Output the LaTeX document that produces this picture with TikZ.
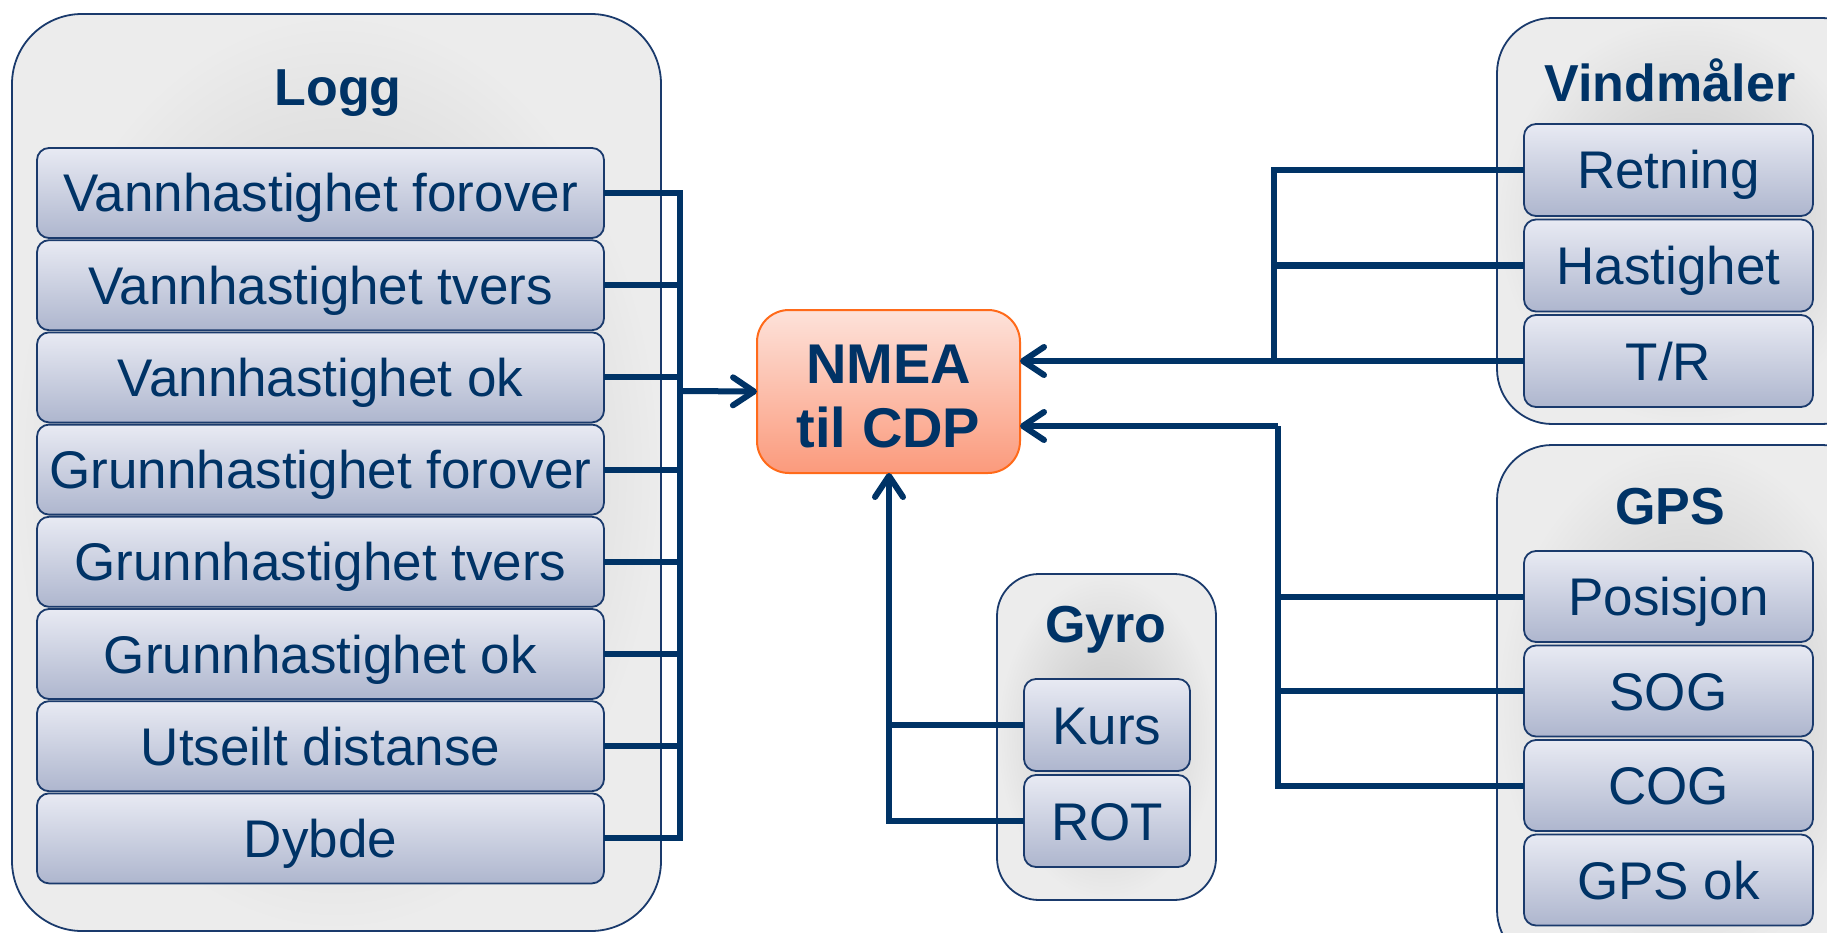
\documentclass[tikz,border=0pt]{standalone}
\usepackage{fontspec}
\setmainfont{Liberation Sans}
\usetikzlibrary{arrows.meta}
\definecolor{navy}{HTML}{003366}
\definecolor{boxline}{HTML}{1A3A6C}
\definecolor{grpin}{HTML}{C2C2C2}
\definecolor{grpout}{HTML}{ECECEC}
\definecolor{itemtop}{HTML}{E8EAF3}
\definecolor{itembot}{HTML}{AEB6CE}
\definecolor{nmeatop}{HTML}{FDE2DA}
\definecolor{nmeabot}{HTML}{FB9A7C}
\definecolor{nmealine}{HTML}{FF6A1A}
\tikzset{
  grp/.style={draw=boxline, line width=1.8pt, rounded corners=#1, inner color=grpin, outer color=grpout,
    anchor=north west, inner sep=0pt, outer sep=0pt},
  grptitle/.style={text=navy, font=\fontsize{52}{60}\selectfont\bfseries, inner sep=0pt},
  item/.style={draw=boxline, line width=1.8pt, rounded corners=12pt, top color=itemtop, bottom color=itembot,
    text=navy, font=\fontsize{53}{60}\selectfont, anchor=north west, inner sep=0pt, outer sep=0pt,
    text height=44pt, text depth=6pt},
  conn/.style={draw=navy, line width=6pt},
  arr/.style={conn, -{Straight Barb[length=21pt,width=28pt,round]}},
}
\begin{document}
\begin{tikzpicture}[x=1pt,y=-1pt]
\useasboundingbox (0,0) rectangle (1827,933);
\clip (0,0) rectangle (1827,933);
% Logg group
\node[grp=70pt, minimum width=649pt, minimum height=917pt] (logg) at (12,14) {};
\node[grptitle] (loggt) at (338,93) {Logg};
\foreach \i/\t in {1/Vannhastighet forover,2/Vannhastighet tvers,3/Vannhastighet ok,4/Grunnhastighet forover,5/Grunnhastighet tvers,6/Grunnhastighet ok,7/Utseilt distanse,8/Dybde}{
  \node[item, minimum width=567pt, minimum height=90pt] (l\i) at (37,{148+92.2*(\i-1)}) {\t};
}
% Vindmaaler group
\node[grp=55pt, minimum width=380pt, minimum height=406pt] (vind) at (1497,18) {};
\node[grptitle] (vindt) at (1670,80) {Vindmåler};
\foreach \i/\t in {1/Retning,2/Hastighet,3/T\slash R}{
  \node[item, minimum width=289pt, minimum height=92pt] (v\i) at (1524,{124+95.5*(\i-1)}) {\t};
}
% GPS group
\node[grp=55pt, minimum width=380pt, minimum height=520pt] (gps) at (1497,445) {};
\node[grptitle] (gpst) at (1670,507) {GPS};
\foreach \i/\t in {1/Posisjon,2/SOG,3/COG,4/GPS ok}{
  \node[item, minimum width=289pt, minimum height=91pt] (g\i) at (1524,{551+94.5*(\i-1)}) {\t};
}
% Gyro group
\node[grp=42pt, minimum width=219pt, minimum height=326pt] (gyro) at (997,574) {};
\node[grptitle] (gyrot) at (1106,630) {Gyro};
\node[item, minimum width=166pt, minimum height=92pt] (y1) at (1024,679) {Kurs};
\node[item, minimum width=166pt, minimum height=92pt] (y2) at (1024,775) {ROT};
% NMEA
\node[draw=nmealine, line width=2pt, rounded corners=32pt, top color=nmeatop, bottom color=nmeabot,
  minimum width=263pt, minimum height=163pt, anchor=north west, inner sep=0pt, outer sep=0pt,
  text=navy, font=\fontsize{56}{64}\selectfont\bfseries, align=center] (nmea) at (757,310) {\rule{0pt}{48pt}NMEA\\til CDP};
% Logg connectors
\coordinate (lbus) at (680,391);
\draw[conn] (l1.east) -| (l8.east -| lbus) -- (l8.east);
\foreach \i in {2,...,7}{ \draw[conn] (l\i.east) -- (l\i.east -| lbus); }
\draw[arr] (lbus) -- (nmea.west);
% Vindmaaler connectors
\coordinate (vbus) at (1274,362);
\draw[arr] (v3.west) -- (v3.west -| nmea.east);
\draw[conn] (v1.west) -| (v3.west -| vbus);
\draw[conn] (v2.west) -- (v2.west -| vbus);
% GPS connectors
\coordinate (gbus) at (1278,426);
\draw[arr] (gbus) -- (gbus -| nmea.east);
\draw[conn] (g3.west) -| (gbus);
\draw[conn] (g1.west) -- (g1.west -| gbus);
\draw[conn] (g2.west) -- (g2.west -| gbus);
% Gyro connectors
\coordinate (ybus) at (889,473);
\draw[arr] (y2.west) -| (ybus);
\draw[conn] (y1.west) -- (y1.west -| ybus);
\end{tikzpicture}
\end{document}
